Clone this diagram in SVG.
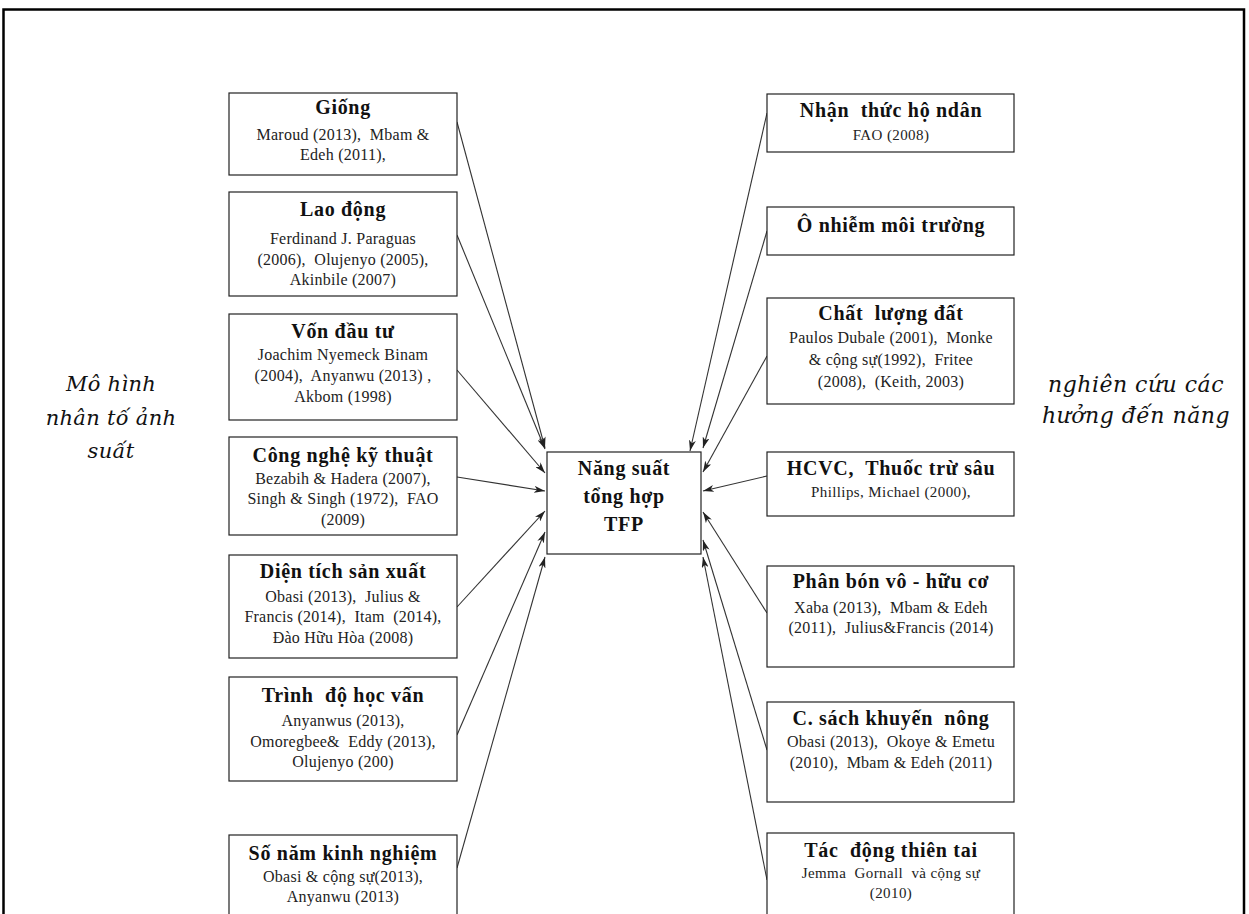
<svg xmlns="http://www.w3.org/2000/svg" width="1249" height="914" viewBox="0 0 1249 914">
<defs>
<style>
.box{fill:#fff;stroke:#222;stroke-width:1.2}
.t{font-family:"Liberation Serif","Times New Roman",serif;font-weight:bold;font-size:20px;letter-spacing:0.7px;text-anchor:middle;fill:#111;white-space:pre}
.b{font-family:"Liberation Serif","Times New Roman",serif;font-size:16px;letter-spacing:0.25px;text-anchor:middle;fill:#222;white-space:pre}
.s{font-family:"Liberation Serif","Times New Roman",serif;font-size:15px;letter-spacing:0.4px;text-anchor:middle;fill:#222;white-space:pre}
.i{font-family:"DejaVu Serif","Liberation Serif",serif;font-style:italic;font-size:21px;letter-spacing:0.3px;text-anchor:middle;fill:#111;white-space:pre}
.c line{stroke:#333;stroke-width:1.1;marker-end:url(#ah)}
</style>
<marker id="ah" markerWidth="11" markerHeight="7" refX="11" refY="3.5" orient="auto" markerUnits="userSpaceOnUse">
<path d="M0,0 L11,3.5 L0,7 L3,3.5 z" fill="#222"/>
</marker>
</defs>
<rect width="1249" height="914" fill="#fff"/>
<path d="M3.5,930 V9.5 H1244 V930" fill="none" stroke="#000" stroke-width="2.5"/>

<g id="label-left">
<text class="i" x="111" y="391">Mô hình</text>
<text class="i" x="111" y="425">nhân tố ảnh</text>
<text class="i" x="111" y="458">suất</text>
</g>
<g id="label-right">
<text class="i" x="1136" y="392" style="font-size:22px;letter-spacing:0.5px">nghiên cứu các</text>
<text class="i" x="1136" y="423" style="font-size:22px;letter-spacing:0.5px">hưởng đến năng</text>
</g>

<g class="c" id="connectors">
<line x1="457" y1="122" x2="545" y2="448"/>
<line x1="457" y1="235" x2="545" y2="449"/>
<line x1="457" y1="370" x2="545" y2="473"/>
<line x1="457" y1="477" x2="545" y2="491"/>
<line x1="457" y1="607" x2="545" y2="511"/>
<line x1="457" y1="735" x2="545" y2="532"/>
<line x1="457" y1="868" x2="545" y2="557"/>
<line x1="767" y1="113" x2="690" y2="451"/>
<line x1="767" y1="231" x2="703" y2="448"/>
<line x1="767" y1="356" x2="703" y2="472"/>
<line x1="767" y1="476" x2="703" y2="491"/>
<line x1="767" y1="613" x2="703" y2="512"/>
<line x1="767" y1="750" x2="703" y2="540"/>
<line x1="767" y1="880" x2="703" y2="557"/>
</g>

<g id="center">
<rect class="box" x="547" y="452" width="154" height="102"/>
<text class="t" x="624" y="475">Năng suất</text>
<text class="t" x="624" y="503">tổng hợp</text>
<text class="t" x="624" y="531">TFP</text>
</g>

<g id="giong">
<rect class="box" x="229" y="93" width="228" height="82"/>
<text class="t" x="343" y="114">Giống</text>
<text class="b" x="343" y="140">Maroud (2013),  Mbam &amp;</text>
<text class="b" x="343" y="160">Edeh (2011),</text>
</g>
<g id="laodong">
<rect class="box" x="229" y="192" width="228" height="104"/>
<text class="t" x="343" y="216">Lao động</text>
<text class="b" x="343" y="244">Ferdinand J. Paraguas</text>
<text class="b" x="343" y="265">(2006),  Olujenyo (2005),</text>
<text class="b" x="343" y="285">Akinbile (2007)</text>
</g>
<g id="vondautu">
<rect class="box" x="229" y="314" width="228" height="106"/>
<text class="t" x="343" y="338">Vốn đầu tư</text>
<text class="b" x="343" y="360">Joachim Nyemeck Binam</text>
<text class="b" x="343" y="381">(2004),  Anyanwu (2013) ,</text>
<text class="b" x="343" y="402">Akbom (1998)</text>
</g>
<g id="congnghe">
<rect class="box" x="229" y="437" width="228" height="98"/>
<text class="t" x="343" y="462">Công nghệ kỹ thuật</text>
<text class="b" x="343" y="484">Bezabih &amp; Hadera (2007),</text>
<text class="b" x="343" y="504">Singh &amp; Singh (1972),  FAO</text>
<text class="b" x="343" y="525">(2009)</text>
</g>
<g id="dientich">
<rect class="box" x="229" y="555" width="228" height="103"/>
<text class="t" x="343" y="578">Diện tích sản xuất</text>
<text class="b" x="343" y="602">Obasi (2013),  Julius &amp;</text>
<text class="b" x="343" y="622">Francis (2014),  Itam  (2014),</text>
<text class="b" x="343" y="643">Đào Hữu Hòa (2008)</text>
</g>
<g id="trinhdo">
<rect class="box" x="229" y="677" width="228" height="104"/>
<text class="t" x="343" y="702">Trình  độ học vấn</text>
<text class="b" x="343" y="726">Anyanwus (2013),</text>
<text class="b" x="343" y="747">Omoregbee&amp;  Eddy (2013),</text>
<text class="b" x="343" y="767">Olujenyo (200)</text>
</g>
<g id="sonam">
<rect class="box" x="229" y="835" width="228" height="110"/>
<text class="t" x="343" y="860">Số năm kinh nghiệm</text>
<text class="b" x="343" y="882">Obasi &amp; cộng sự(2013),</text>
<text class="b" x="343" y="902">Anyanwu (2013)</text>
</g>

<g id="nhanthuc">
<rect class="box" x="767" y="94" width="247" height="58"/>
<text class="t" x="891" y="117">Nhận  thức hộ ndân</text>
<text class="s" x="891" y="140">FAO (2008)</text>
</g>
<g id="onhiem">
<rect class="box" x="767" y="207" width="247" height="48"/>
<text class="t" x="891" y="232">Ô nhiễm môi trường</text>
</g>
<g id="chatluong">
<rect class="box" x="767" y="298" width="247" height="106"/>
<text class="t" x="891" y="320">Chất  lượng đất</text>
<text class="b" x="891" y="343">Paulos Dubale (2001),  Monke</text>
<text class="b" x="891" y="365">&amp; cộng sự(1992),  Fritee</text>
<text class="b" x="891" y="387">(2008),  (Keith, 2003)</text>
</g>
<g id="hcvc">
<rect class="box" x="767" y="452" width="247" height="64"/>
<text class="t" x="891" y="475">HCVC,  Thuốc trừ sâu</text>
<text class="s" x="891" y="497">Phillips, Michael (2000),</text>
</g>
<g id="phanbon">
<rect class="box" x="767" y="566" width="247" height="101"/>
<text class="t" x="891" y="588">Phân bón vô - hữu cơ</text>
<text class="b" x="891" y="613">Xaba (2013),  Mbam &amp; Edeh</text>
<text class="b" x="891" y="633">(2011),  Julius&amp;Francis (2014)</text>
</g>
<g id="chinhsach">
<rect class="box" x="767" y="702" width="247" height="100"/>
<text class="t" x="891" y="725">C. sách khuyến  nông</text>
<text class="b" x="891" y="747">Obasi (2013),  Okoye &amp; Emetu</text>
<text class="b" x="891" y="768">(2010),  Mbam &amp; Edeh (2011)</text>
</g>
<g id="thientai">
<rect class="box" x="767" y="833" width="247" height="110"/>
<text class="t" x="891" y="857">Tác  động thiên tai</text>
<text class="s" x="891" y="878">Jemma  Gornall  và cộng sự</text>
<text class="s" x="891" y="898">(2010)</text>
</g>
</svg>
